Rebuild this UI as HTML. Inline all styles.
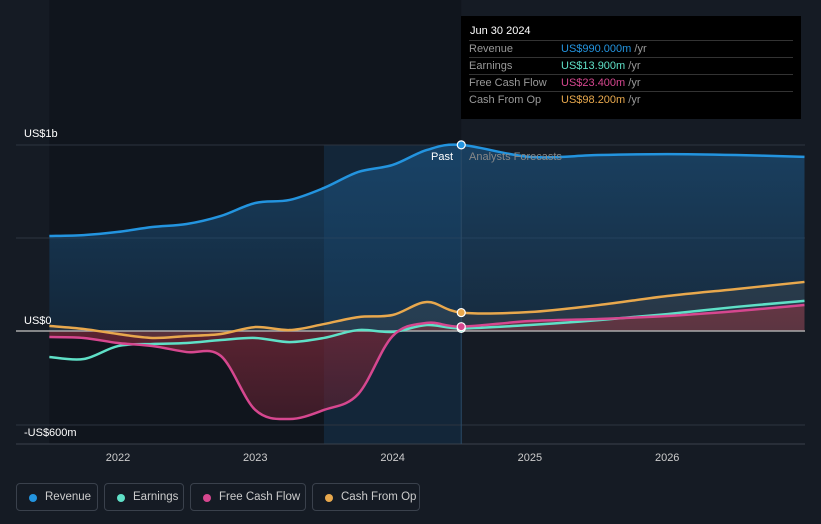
<!DOCTYPE html>
<html><head><meta charset="utf-8"><style>
body{margin:0;background:#151b24;font-family:"Liberation Sans",sans-serif;}
#wrap{position:relative;width:821px;height:524px;overflow:hidden;background:#151b24;}
.tt{position:absolute;left:461px;top:16px;width:340px;height:103px;background:#000;color:#ddd;font-size:11px;}
.tt .h{position:absolute;left:9px;top:9px;color:#fff;font-size:11px;}
.row{position:absolute;left:8px;width:324px;border-top:1px solid #333;height:17px;line-height:17px;}
.row span.l{color:#999;position:absolute;left:0}
.row span.v{position:absolute;left:92px}
.leg{position:absolute;top:483px;height:28px;border:1px solid #3a414c;border-radius:4px;color:#ccc;font-size:11.5px;line-height:26px;box-sizing:border-box;padding-left:28px;white-space:nowrap;}
.leg i{position:absolute;left:12px;top:10px;width:8px;height:8px;border-radius:50%;}
</style></head><body>
<div id="wrap">
<svg id="svg" width="821" height="524" style="position:absolute;left:0;top:0"></svg>
<div class="tt">
<div class="h">Jun 30 2024</div>
<div class="row" style="top:24px"><span class="l">Revenue</span><span class="v" style="color:#2394df">US$990.000m <span style="color:#999">/yr</span></span></div>
<div class="row" style="top:41px"><span class="l">Earnings</span><span class="v" style="color:#5fe0c7">US$13.900m <span style="color:#999">/yr</span></span></div>
<div class="row" style="top:58px"><span class="l">Free Cash Flow</span><span class="v" style="color:#d6478f">US$23.400m <span style="color:#999">/yr</span></span></div>
<div class="row" style="top:75px"><span class="l">Cash From Op</span><span class="v" style="color:#e8a84d">US$98.200m <span style="color:#999">/yr</span></span></div>
</div>
<div class="leg" style="left:16px;width:82px"><i style="background:#2394df"></i>Revenue</div>
<div class="leg" style="left:104px;width:80px"><i style="background:#5fe0c7"></i>Earnings</div>
<div class="leg" style="left:190px;width:116px"><i style="background:#d6478f"></i>Free Cash Flow</div>
<div class="leg" style="left:312px;width:108px"><i style="background:#e8a84d"></i>Cash From Op</div>
</div>
<script>
const dates=[2021.5,2021.75,2022,2022.25,2022.5,2022.75,2023,2023.25,2023.5,2023.75,2024,2024.25,2024.5,2025,2025.5,2026,2026.5,2027];
const revenue=[505,510,527,553,569,612,681,697,761,846,883,963,990,926,936,941,936,926];
const cashFromOp=[27,11,-16,-37,-27,-16,21,5,37,74,85,154,98,101,138,186,223,261];
const earnings=[-138,-149,-80,-69,-64,-48,-37,-59,-37,5,-5,32,14,32,58,90,128,160];
const freeCashFlow=[-32,-37,-64,-80,-112,-133,-420,-468,-420,-335,-27,43,23,53,64,80,106,138];
const yTicks=["US$1b","US$0","-US$600m"];
const xTicks=[2022,2023,2024,2025,2026];
const X=d=>118+(d-2022)*137.3;
const Y=v=>331-v*0.188;
const svg=document.getElementById('svg');
const NS='http://www.w3.org/2000/svg';
function mk(t,a,name){const e=document.createElementNS(NS,t);for(const k in a)e.setAttribute(k,a[k]);


svg.appendChild(e);return e;}
function path(vals){const p=dates.map((d,i)=>[X(d),Y(vals[i])]);let s=`M${p[0][0]},${p[0][1]}`;
for(let i=0;i<p.length-1;i++){const p0=p[Math.max(0,i-1)],p1=p[i],p2=p[i+1],p3=p[Math.min(p.length-1,i+2)];
s+=` C${p1[0]+(p2[0]-p0[0])/6},${p1[1]+(p2[1]-p0[1])/6} ${p2[0]-(p3[0]-p1[0])/6},${p2[1]-(p3[1]-p1[1])/6} ${p2[0]},${p2[1]}`;}return s;}
const x0=X(dates[0]),x1=X(dates[dates.length-1]),xp=X(2024.5);
mk('rect',{x:x0,y:0,width:xp-x0,height:444,fill:'#10151d'},'past-bg');
mk('rect',{x:X(2023.5),y:145,width:xp-X(2023.5),height:299,fill:'#16324d',opacity:0.6},'highlight-band');
[145,238,425].forEach((y,i)=>mk('line',{x1:16,x2:805,y1:y,y2:y,stroke:'#2d3440'},'gridline'));
mk('line',{x1:16,x2:805,y1:444,y2:444,stroke:'#3a414c'},'x-axis');
const defs=mk('defs',{},'defs');
defs.innerHTML='<linearGradient id="rg" x1="0" y1="0" x2="0" y2="1"><stop offset="0" stop-color="#1b4f7a" stop-opacity="0.7"/><stop offset="1" stop-color="#1b4f7a" stop-opacity="0.3"/></linearGradient><linearGradient id="fg" x1="0" y1="0" x2="0" y2="1"><stop offset="0" stop-color="#7a2a3a" stop-opacity="0.8"/><stop offset="1" stop-color="#5a2030" stop-opacity="0.6"/></linearGradient>';
mk('path',{d:path(revenue)+` L${x1},${Y(0)} L${x0},${Y(0)} Z`,fill:'url(#rg)'},'revenue-area');
mk('path',{d:path(freeCashFlow)+` L${x1},${Y(0)} L${x0},${Y(0)} Z`,fill:'url(#fg)'},'fcf-area');
mk('path',{d:path(cashFromOp)+` L${x1},${Y(0)} L${x0},${Y(0)} Z`,fill:'#5a5a5a',opacity:0.25},'cfo-area');
mk('line',{x1:16,x2:805,y1:331,y2:331,stroke:'#aaa',"stroke-width":1.5},'zero-line');
mk('line',{x1:xp,x2:xp,y1:145,y2:444,stroke:'#2a4a66'},'past-divider');
const series=[[revenue,'#2394df','revenue-line'],[cashFromOp,'#e8a84d','cash-from-op-line'],[earnings,'#5fe0c7','earnings-line'],[freeCashFlow,'#d6478f','fcf-line']];
series.forEach(s=>mk('path',{d:path(s[0]),fill:'none',stroke:s[1],'stroke-width':2.5},s[2]));
series.forEach(s=>mk('circle',{cx:xp,cy:Y(s[0][12]),r:4,fill:s[1],stroke:'#fff','stroke-width':1.2},s[2]+'-marker'));
const yl=[[24,137],[24,324],[24,436]];
yTicks.forEach((t,i)=>{const e=mk('text',{x:yl[i][0],y:yl[i][1],fill:'#fff','font-size':11},'y-tick-label');e.textContent=t;});
xTicks.forEach(t=>{const e=mk('text',{x:X(t),y:461,fill:'#ccc','font-size':11,'text-anchor':'middle'},'x-tick-label');e.textContent=t;});
let e=mk('text',{x:453,y:160,fill:'#fff','font-size':11,'text-anchor':'end'},'past-label');e.textContent='Past';
e=mk('text',{x:469,y:160,fill:'#888','font-size':11},'forecast-label');e.textContent='Analysts Forecasts';
</script>
</body></html>
